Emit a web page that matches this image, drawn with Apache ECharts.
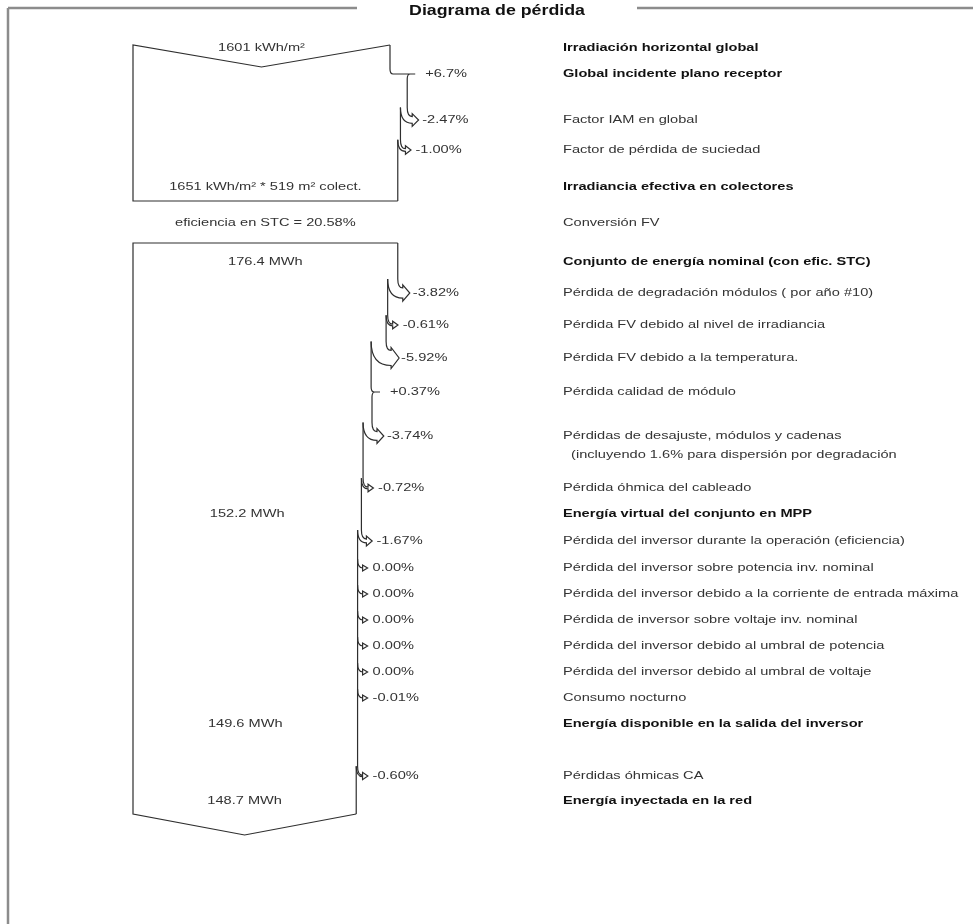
<!DOCTYPE html>
<html lang="es">
<head>
    <meta charset="UTF-8">
    <title>Diagrama de pérdida</title>
    <script src="https://cdn.jsdelivr.net/npm/echarts@6/dist/echarts.min.js"></script>
    <style>html, body { margin: 0; background: #fff; }</style>
</head>
<body>
<div id="main" style="width: 973px; height: 924px;"></div>
<script>
    // rows of the loss diagram, top to bottom
    var rowLabels = [
        'Irradiación horizontal global',
        'Global incidente plano receptor',
        'Factor IAM en global',
        'Factor de pérdida de suciedad',
        'Irradiancia efectiva en colectores',
        'Conversión FV',
        'Conjunto de energía nominal (con efic. STC)',
        'Pérdida de degradación módulos ( por año #10)',
        'Pérdida FV debido al nivel de irradiancia',
        'Pérdida FV debido a la temperatura.',
        'Pérdida calidad de módulo',
        'Pérdidas de desajuste, módulos y cadenas\n  (incluyendo 1.6% para dispersión por degradación',
        'Pérdida óhmica del cableado',
        'Energía virtual del conjunto en MPP',
        'Pérdida del inversor durante la operación (eficiencia)',
        'Pérdida del inversor sobre potencia inv. nominal',
        'Pérdida del inversor debido a la corriente de entrada máxima',
        'Pérdida de inversor sobre voltaje inv. nominal',
        'Pérdida del inversor debido al umbral de potencia',
        'Pérdida del inversor debido al umbral de voltaje',
        'Consumo nocturno',
        'Energía disponible en la salida del inversor',
        'Pérdidas óhmicas CA',
        'Energía inyectada en la red'
    ];
    // gain / loss of each step, in %
    var rowPercent = [null, '+6.7', '-2.47', '-1.00', null, null, null, '-3.82', '-0.61', '-5.92', '+0.37', '-3.74', '-0.72',
        null, '-1.67', '0.00', '0.00', '0.00', '0.00', '0.00', '-0.01', null, '-0.60', null];
    // energy levels written inside the flow
    var rowValue = ['1601 kWh/m²', null, null, null, '1651 kWh/m² * 519 m² colect.', 'eficiencia en STC = 20.58%', '176.4 MWh',
        null, null, null, null, null, null, '152.2 MWh', null, null, null, null, null, null, null, '149.6 MWh', null, '148.7 MWh'];
    var levelRows = [0, 1, 4, 6, 13, 21, 23];

    // layout (vertical position of each row, box frames)
    var rowY = [48, 74, 120, 150, 187, 223, 262, 293, 325, 358, 392, 436, 488, 514, 541, 568, 594, 620, 646, 672, 698, 724, 776, 801];
    var boxes = [
        {first: 0, last: 4, top: 45, bottom: 201, tip: 67, vee: 'top'},
        {first: 6, last: 23, top: 243, bottom: 814, tip: 835, vee: 'bottom'}
    ];
    var descX = 167.3;
    var textScale = 1.27;

    // flow width before / after each row (100 = global horizontal irradiation)
    var widthBefore = [], widthAfter = [];
    var w = 100;
    rowPercent.forEach(function (p) {
        widthBefore.push(w);
        if (p !== null) w = w * (1 + parseFloat(p) / 100);
        widthAfter.push(w);
    });

    function n(v) { return v.toFixed(2); }

    function txt(x, y, s, bold, align, valign) {
        return {
            type: 'text', x: x, y: y, scaleX: textScale,
            style: {
                text: s,
                font: (bold ? 'bold ' : '') + '11.5px "Liberation Sans", Arial, sans-serif',
                fill: bold ? '#111' : '#333',
                align: align, verticalAlign: valign, lineHeight: 19
            }
        };
    }

    function renderBox(params, api) {
        var b = boxes[params.dataIndex];
        var P = function (x, y) { return api.coord([x, y]); };
        var line = {stroke: '#2e2e2e', lineWidth: 1.2, fill: 'none'};
        var kids = [];
        var wTop = widthBefore[b.first], wBot = widthAfter[b.last];
        var outline;
        if (b.vee === 'top') {
            outline = [P(wBot, b.bottom), P(0, b.bottom), P(0, b.top), P(wTop / 2, b.tip), P(wTop, b.top)];
        } else {
            outline = [P(wTop, b.top), P(0, b.top), P(0, b.bottom), P(wBot / 2, b.tip), P(wBot, b.bottom)];
        }
        kids.push({type: 'polyline', shape: {points: outline}, style: line});

        var yCur = P(0, b.top)[1];
        for (var i = b.first; i <= b.last; i++) {
            if (rowPercent[i] === null) continue;
            var xo = P(widthBefore[i], 0)[0], xn = P(widthAfter[i], 0)[0];
            var yc = P(0, rowY[i])[1];
            var d;
            if (xn > xo) {
                // gain: step outwards
                d = 'M' + n(xo) + ' ' + n(yCur) + 'L' + n(xo) + ' ' + n(yc - 5) +
                    'Q' + n(xo) + ' ' + n(yc) + ' ' + n(xo + 3) + ' ' + n(yc) +
                    'L' + n(xn + 8) + ' ' + n(yc) +
                    'M' + n(xn + 3) + ' ' + n(yc) + 'Q' + n(xn) + ' ' + n(yc) + ' ' + n(xn) + ' ' + n(yc + 5);
                yCur = yc + 5;
            } else {
                // loss: curved band leaving the flow
                var bw = xo - xn, cx = xo + 5, y0 = yc - bw / 2 - 9, hh = 3, hl = 5 + bw * 0.2;
                d = 'M' + n(xo) + ' ' + n(yCur) + 'L' + n(xo) + ' ' + n(y0) +
                    'Q' + n(xo) + ' ' + n(yc - bw / 2) + ' ' + n(cx) + ' ' + n(yc - bw / 2) +
                    'L' + n(cx) + ' ' + n(yc - bw / 2 - hh) + 'L' + n(cx + hl) + ' ' + n(yc) +
                    'L' + n(cx) + ' ' + n(yc + bw / 2 + hh) + 'L' + n(cx) + ' ' + n(yc + bw / 2) +
                    'Q' + n(xn) + ' ' + n(yc + bw / 2) + ' ' + n(xn) + ' ' + n(y0);
                yCur = y0;
            }
            kids.push({type: 'path', shape: {pathData: d}, style: line});
        }
        var xe = P(wBot, 0)[0];
        kids.push({type: 'line', shape: {x1: xe, y1: yCur, x2: xe, y2: P(0, b.bottom)[1]}, style: line});
        return {type: 'group', children: kids};
    }

    function renderRow(params, api) {
        var i = params.dataIndex;
        var yc = api.coord([0, rowY[i]])[1];
        var x0 = api.coord([0, 0])[0];
        var kids = [];
        kids.push(txt(api.coord([descX, 0])[0], yc - 9.5, rowLabels[i], levelRows.indexOf(i) >= 0, 'left', 'top'));
        if (rowPercent[i] !== null) {
            var xo = api.coord([widthBefore[i], 0])[0], xn = api.coord([widthAfter[i], 0])[0];
            var lx = parseFloat(rowPercent[i]) > 0 ? xn + 18 : xo + 15;
            kids.push(txt(lx, yc, rowPercent[i] + '%', false, 'left', 'middle'));
        }
        if (rowValue[i]) {
            var xr = api.coord([widthAfter[i], 0])[0];
            kids.push(txt((x0 + xr) / 2, yc, rowValue[i], false, 'center', 'middle'));
        }
        return {type: 'group', children: kids};
    }

    var chart = echarts.init(document.getElementById('main'));
    var frame = {stroke: '#8c8c8c', lineWidth: 2.5};
    chart.setOption({
        animation: false,
        grid: {left: 133, right: 583, top: 0, bottom: 0},
        xAxis: {type: 'value', min: 0, max: 100, show: false},
        yAxis: {type: 'value', min: 0, max: 924, inverse: true, show: false},
        graphic: [
            {type: 'line', shape: {x1: 8, y1: 8, x2: 357, y2: 8}, style: frame},
            {type: 'line', shape: {x1: 637, y1: 8, x2: 973, y2: 8}, style: frame},
            {type: 'line', shape: {x1: 8, y1: 8, x2: 8, y2: 924}, style: frame},
            {
                type: 'text', x: 497, y: 11, scaleX: textScale,
                style: {
                    text: 'Diagrama de pérdida', font: 'bold 14px "Liberation Sans", Arial, sans-serif',
                    fill: '#111', align: 'center', verticalAlign: 'middle'
                }
            }
        ],
        series: [
            {
                type: 'custom', name: 'flujo', clip: false, silent: true,
                renderItem: renderBox,
                data: boxes.map(function (b) { return [0, b.top]; })
            },
            {
                type: 'custom', name: 'etiquetas', clip: false, silent: true,
                renderItem: renderRow,
                data: rowLabels.map(function (s, i) { return [widthAfter[i], rowY[i]]; })
            }
        ]
    });
</script>
</body>
</html>
